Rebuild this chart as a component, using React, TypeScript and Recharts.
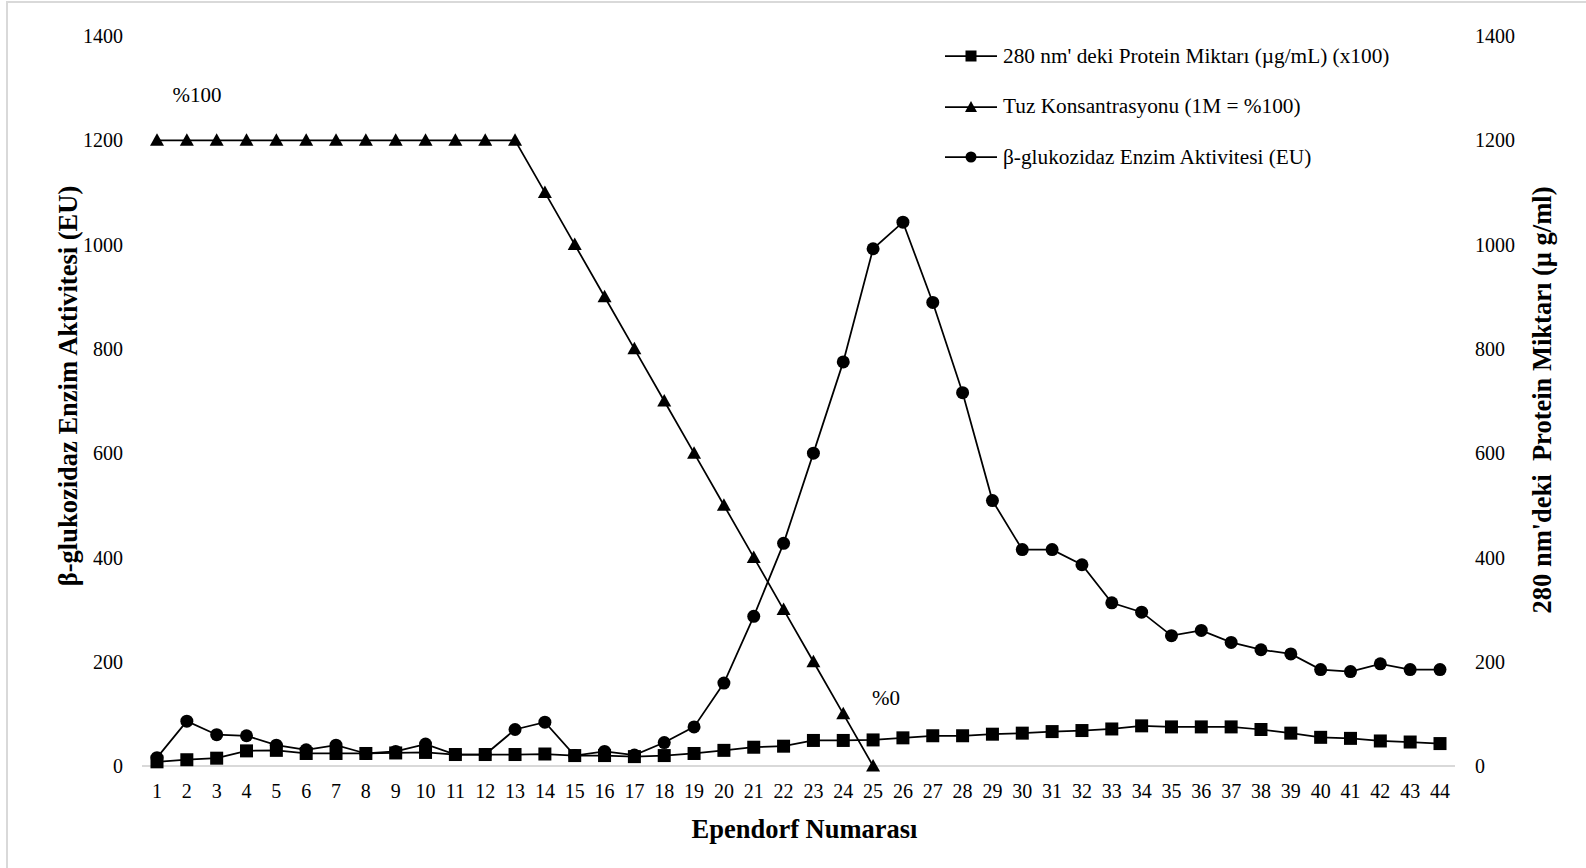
import React from 'react';
import { ComposedChart, Line, XAxis, YAxis, Legend, LabelList } from 'recharts';

// Fraction (Ependorf) numbers along the x axis
const ependorf = [
  '1', '2', '3', '4', '5', '6', '7', '8', '9', '10', '11',
  '12', '13', '14', '15', '16', '17', '18', '19', '20', '21', '22',
  '23', '24', '25', '26', '27', '28', '29', '30', '31', '32', '33',
  '34', '35', '36', '37', '38', '39', '40', '41', '42', '43', '44',
];

// Protein at 280 nm (µg/mL, x100)
const protein = [
  8, 12, 15, 29, 30, 24, 24, 24, 25, 26, 22,
  22, 22, 23, 20, 20, 18, 20, 24, 30, 36, 38,
  49, 49, 50, 54, 58, 58, 61, 63, 66, 68, 71,
  77, 75, 75, 75, 70, 63, 55, 53, 48, 46, 43,
];

// Salt concentration gradient (1M = %100), fractions 1-25
const salt = [
  1200, 1200, 1200, 1200, 1200, 1200, 1200, 1200, 1200, 1200, 1200,
  1200, 1200, 1100, 1000, 900, 800, 700, 600, 500, 400, 300,
  200, 100, 0,
];

// β-glucosidase enzyme activity (EU)
const enzyme = [
  16, 86, 60, 58, 40, 31, 40, 24, 28, 42, 22,
  22, 70, 84, 20, 28, 21, 45, 75, 159, 287, 427,
  600, 775, 992, 1043, 889, 716, 509, 415, 415, 386, 313,
  295, 250, 260, 237, 223, 215, 185, 181, 196, 185, 185,
];

const yTicks = [0, 200, 400, 600, 800, 1000, 1200, 1400];

const data = ependorf.map((n, i) => ({
  n,
  protein: protein[i],
  salt: i < salt.length ? salt[i] : null,
  enzyme: enzyme[i],
}));

const FONT = '"Liberation Serif", "Times New Roman", serif';
const INK = '#000000';
const AXIS_GREY = '#d9d9d9';
const TICK_SIZE = 20;
const TITLE_SIZE = 26.5;

const SquareDot = (props: any) => {
  const { cx, cy, index } = props;
  if (cx == null || cy == null) return <g key={`sq-${index}`} />;
  return <rect key={`sq-${index}`} x={cx - 6.5} y={cy - 6.5} width={13} height={13} fill={INK} />;
};

const TriangleDot = (props: any) => {
  const { cx, cy, index, value } = props;
  if (cx == null || cy == null || value == null) return <g key={`tr-${index}`} />;
  return (
    <path
      key={`tr-${index}`}
      d={`M${cx},${cy - 7} L${cx + 7},${cy + 5.5} L${cx - 7},${cy + 5.5} Z`}
      fill={INK}
    />
  );
};

const CircleDot = (props: any) => {
  const { cx, cy, index } = props;
  if (cx == null || cy == null) return <g key={`ci-${index}`} />;
  return <circle key={`ci-${index}`} cx={cx} cy={cy} r={6.5} fill={INK} />;
};

// "%100" / "%0" notes beside the first and last points of the salt gradient
const SaltNote = (props: any) => {
  const { x, y, index } = props;
  if (index === 0) {
    return (
      <text x={x + 40} y={y - 45} textAnchor="middle" dominantBaseline="central"
        fontFamily={FONT} fontSize={21} fill={INK}>%100</text>
    );
  }
  if (index === salt.length - 1) {
    return (
      <text x={x + 13} y={y - 68} textAnchor="middle" dominantBaseline="central"
        fontFamily={FONT} fontSize={21} fill={INK}>%0</text>
    );
  }
  return null;
};

const legendItems = [
  { label: "280 nm' deki Protein Miktarı (µg/mL) (x100)", shape: 'square' },
  { label: 'Tuz Konsantrasyonu (1M = %100)', shape: 'triangle' },
  { label: 'β-glukozidaz Enzim Aktivitesi (EU)', shape: 'circle' },
];

const LegendMarker = ({ shape }: { shape: string }) => (
  <svg width={52} height={16} style={{ display: 'block' }}>
    <line x1={0} y1={8} x2={52} y2={8} stroke={INK} strokeWidth={1.75} />
    {shape === 'square' && <rect x={20.5} y={2.5} width={11} height={11} fill={INK} />}
    {shape === 'triangle' && <path d="M26,2 L32,13 L20,13 Z" fill={INK} />}
    {shape === 'circle' && <circle cx={26} cy={8} r={5.5} fill={INK} />}
  </svg>
);

const LegendBox = () => (
  <div style={{ fontFamily: FONT, fontSize: 21.3, color: INK }}>
    {legendItems.map((it) => (
      <div key={it.label} style={{ display: 'flex', alignItems: 'center', height: 50.5 }}>
        <LegendMarker shape={it.shape} />
        <span style={{ marginLeft: 6, whiteSpace: 'nowrap' }}>{it.label}</span>
      </div>
    ))}
  </div>
);

const LeftTitle = (props: any) => {
  const { viewBox } = props;
  const cx = 68;
  const cy = viewBox.y + viewBox.height / 2 - 15;
  return (
    <text x={cx} y={cy} transform={`rotate(-90 ${cx} ${cy})`} textAnchor="middle"
      dominantBaseline="central" fontFamily={FONT} fontWeight="bold" fontSize={TITLE_SIZE} fill={INK}>
      β-glukozidaz Enzim Aktivitesi (EU)
    </text>
  );
};

const RightTitle = (props: any) => {
  const { viewBox } = props;
  const cx = 1542;
  const cy = viewBox.y + viewBox.height / 2 - 1;
  return (
    <text x={cx} y={cy} transform={`rotate(-90 ${cx} ${cy})`} textAnchor="middle"
      dominantBaseline="central" fontFamily={FONT} fontWeight="bold" fontSize={TITLE_SIZE} fill={INK}
      style={{ whiteSpace: 'pre' }}>
      {"280 nm'deki  Protein Miktarı (µ g/ml)"}
    </text>
  );
};

export default function App() {
  const tickStyle = { fontFamily: FONT, fontSize: TICK_SIZE, fill: INK };
  return (
    <div
      style={{
        position: 'absolute', left: 0, top: 0, width: 1586, height: 868,
        background: '#ffffff', overflow: 'hidden',
      }}
    >
      <div
        style={{
          position: 'absolute', left: 6, top: 1, width: 1600, height: 900,
          borderLeft: `2px solid ${AXIS_GREY}`, borderTop: `2px solid ${AXIS_GREY}`,
        }}
      />
      <ComposedChart
        width={1586}
        height={868}
        data={data}
        margin={{ top: 36, right: 0, bottom: 0, left: 0 }}
        style={{ position: 'absolute', left: 0, top: 0 }}
      >
        <XAxis
          dataKey="n"
          interval={0}
          height={102}
          padding={{ left: 15, right: 15 }}
          tickLine={false}
          axisLine={{ stroke: AXIS_GREY, strokeWidth: 2 }}
          tickMargin={12}
          tick={tickStyle}
          label={{
            value: 'Ependorf Numarası', position: 'insideBottom', offset: 30, dx: 6,
            style: { fontFamily: FONT, fontWeight: 'bold', fontSize: TITLE_SIZE, fill: INK },
          }}
        />
        <YAxis
          yAxisId="left"
          domain={[0, 1400]}
          ticks={yTicks}
          width={142}
          axisLine={false}
          tickLine={false}
          tickMargin={13}
          tick={tickStyle}
          label={<LeftTitle />}
        />
        <YAxis
          yAxisId="right"
          orientation="right"
          domain={[0, 1400]}
          ticks={yTicks}
          width={131}
          axisLine={false}
          tickLine={false}
          tickMargin={14}
          tick={tickStyle}
          label={<RightTitle />}
        />
        <Legend
          verticalAlign="middle"
          align="center"
          layout="vertical"
          content={<LegendBox />}
          wrapperStyle={{ left: 945, top: 31, width: 470 }}
        />
        <Line
          yAxisId="right"
          dataKey="protein"
          name="280 nm' deki Protein Miktarı (µg/mL) (x100)"
          stroke={INK}
          strokeWidth={1.75}
          dot={<SquareDot />}
          activeDot={false}
          isAnimationActive={false}
        />
        <Line
          yAxisId="left"
          dataKey="salt"
          name="Tuz Konsantrasyonu (1M = %100)"
          stroke={INK}
          strokeWidth={1.75}
          dot={<TriangleDot />}
          activeDot={false}
          connectNulls={false}
          isAnimationActive={false}
        >
          <LabelList dataKey="salt" content={<SaltNote />} />
        </Line>
        <Line
          yAxisId="left"
          dataKey="enzyme"
          name="β-glukozidaz Enzim Aktivitesi (EU)"
          stroke={INK}
          strokeWidth={1.75}
          dot={<CircleDot />}
          activeDot={false}
          isAnimationActive={false}
        />
      </ComposedChart>
    </div>
  );
}
